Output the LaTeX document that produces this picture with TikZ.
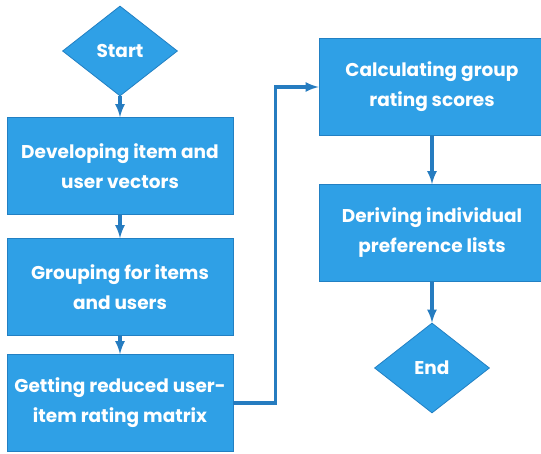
\documentclass[tikz,border=0pt]{standalone}
\usepackage{fontspec}
\setmainfont{Poppins}
\usetikzlibrary{shapes,arrows}
\usetikzlibrary{positioning}
\definecolor{boxblue}{RGB}{47,160,230}
\definecolor{edgeblue}{RGB}{34,128,195}
\definecolor{arrowblue}{RGB}{38,124,192}

\tikzset{
  stepbox/.style={rectangle, draw=edgeblue, line width=0.8pt, fill=boxblue,
    text=white, font=\bfseries\fontsize{18.5}{30}\selectfont, align=center,
    minimum width=226pt, minimum height=97pt, inner sep=0pt},
  terminal/.style={diamond, draw=edgeblue, line width=0.8pt, fill=boxblue,
    text=white, font=\bfseries\fontsize{18.5}{30}\selectfont,
    minimum width=115pt, minimum height=90pt, inner sep=0pt},
  flow/.style={draw=arrowblue, line width=3.4pt, -latex},
}

\begin{document}
\begin{tikzpicture}[x=1pt, y=-1pt]
\useasboundingbox (0,0) rectangle (541,454);
\node[terminal] (start) at (120,51) {Start};
\node[stepbox] (vectors) at (120,166) {Developing item and\\user vectors};
\node[stepbox] (grouping) at (120,287) {Grouping for items\\and users};
\node[stepbox] (reduce) at (120,403) {Getting reduced user-\\item rating matrix};
\node[stepbox] (scores) at (432,87) {Calculating group\\rating scores};
\node[stepbox] (prefs) at (432,233) {Deriving individual\\preference lists};
\node[terminal] (end) at (432,368) {End};

\draw[flow] (start) -- (vectors);
\draw[flow] (vectors) -- (grouping);
\draw[flow] (grouping) -- (reduce);
\draw[flow] (reduce.east) -- ++(42,0) |- (scores.west);
\draw[flow] (scores) -- (prefs);
\draw[flow] (prefs) -- (end);
\end{tikzpicture}
\end{document}
